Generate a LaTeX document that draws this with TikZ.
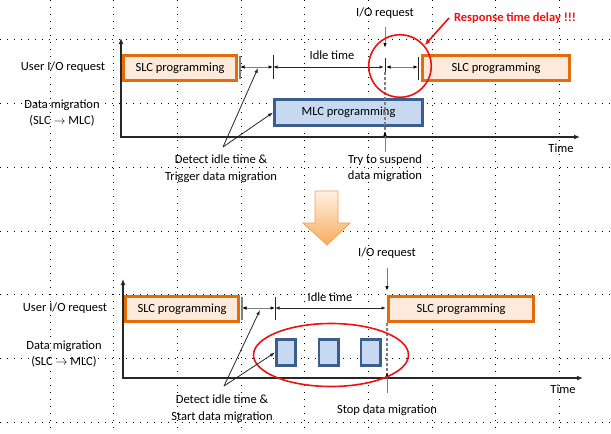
\documentclass[tikz,border=0pt]{standalone}
\usepackage{fontspec}
\setmainfont{Carlito}
\usetikzlibrary{arrows.meta,shapes.geometric,calc}
\definecolor{slcb}{HTML}{E46C0A}
\definecolor{slcf}{HTML}{FDEADA}
\definecolor{mlcb}{HTML}{3B5E8C}
\definecolor{mlcf}{HTML}{C6D9F1}
\definecolor{dk}{HTML}{262626}
\definecolor{gr}{HTML}{7F7F7F}
\definecolor{rd}{HTML}{F01010}
\definecolor{ora}{HTML}{F5A04E}
\definecolor{oral}{HTML}{FEF1E3}
\definecolor{orad}{HTML}{F9AC5C}
\begin{document}
\begin{tikzpicture}[x=1pt,y=-1pt,
  gridln/.style={black, line width=0.9pt, dash pattern=on 0.9pt off 6.1pt},
  axis/.style={dk, line width=1.6pt, {Latex[length=6pt,width=5pt]}-{Latex[length=6pt,width=5pt]}},
  slc/.style={draw=slcb, fill=slcf, line width=3pt, minimum height=25pt, inner sep=0pt, font=\fontsize{12.5}{15}\selectfont},
  mlc/.style={draw=mlcb, fill=mlcf, line width=3pt, minimum height=26pt, inner sep=0pt, font=\fontsize{12.5}{15}\selectfont},
  blk/.style={draw=mlcb, fill=mlcf, line width=2.8pt, minimum width=19.2pt, minimum height=26.2pt, inner sep=0pt},
  lab/.style={inner sep=0pt, align=center, font=\fontsize{12.5}{16.5}\selectfont},
  gtick/.style={gr, line width=1.6pt},
  btick/.style={dk, line width=0.9pt},
  gspan/.style={gr, line width=1pt, {Latex[length=4.5pt,width=3.5pt,black]}-{Latex[length=4.5pt,width=3.5pt,black]}},
  bspan/.style={dk, line width=1pt, {Latex[length=4.5pt,width=3.5pt]}-{Latex[length=4.5pt,width=3.5pt]}},
  ptr/.style={dk, line width=0.8pt, -{Latex[length=5pt,width=3.5pt]}},
  gptr/.style={gr, line width=1pt, -{Latex[length=5pt,width=3.5pt,black]}},
  vdash/.style={gr, line width=1.2pt, dash pattern=on 3pt off 2pt},
  redln/.style={rd, line width=1.6pt}
]
\useasboundingbox (0,0) rectangle (611,434);
% background dotted grid
\foreach \gx in {50,113.7,177.4,241.1,304.8,368.5,432.2,495.9,559.6}
  \draw[gridln] (\gx,0) -- (\gx,434);
\foreach \gy in {39.7,103.5,167.3,231.1,294.9,358.7,422.5}
  \draw[gridln] (0,\gy) -- (611,\gy);

% ================= TOP DIAGRAM =================
\coordinate (ay1) at (121,38);
\coordinate (o1) at (121,137);
\coordinate (ax1) at (580,137);
\draw[axis] (ay1) -- (o1) -- (ax1);

\node[lab] (usr1) at (63,67) {User I/O request};
\node[lab] (dm1) at (62,113) {Data migration\\(SLC $\rightarrow$ MLC)};
\node[lab] (time1) at (561,148) {Time};

\node[slc, minimum width=113pt] (slcA) at (180,68) {SLC programming};
\node[slc, minimum width=147pt] (slcB) at (496,68) {SLC programming};
\node[mlc, minimum width=148pt] (mlc) at (348.5,112.5) {MLC programming};

\coordinate (ta) at (240,67);
\coordinate (tb) at (273,67);
\coordinate (tc) at (385,67);
\coordinate (td) at (418,67);
\draw[gtick] ($(ta)+(0,-11)$) -- ($(ta)+(0,12)$);
\draw[btick] ($(tb)+(0,-12)$) -- ($(tb)+(0,12)$);
\draw[btick] ($(tc)+(0,-9)$) -- ($(tc)+(0,5)$);
\draw[btick] ($(td)+(0,-10)$) -- ($(td)+(0,13)$);
\draw[gspan] (ta) -- (tb);
\draw[bspan] (tb) -- ($(tc)+(-1,0)$);
\draw[gspan] ($(tc)+(1,0)$) -- (td);
\node[lab] (idle1) at (332,55) {Idle time};

\node[lab] (io1) at (385,13) {I/O request};
\coordinate (io1s) at (385,27);
\coordinate (io1e) at (385,48);
\draw[gptr] (io1s) -- (io1e);
\coordinate (susT) at (385,72);
\coordinate (susB) at (385,137);
\draw[vdash] (susT) -- (susB);
\coordinate (sus1s) at (385,152);
\coordinate (sus1e) at (385,131);
\draw[gptr] (sus1s) -- (sus1e);
\node[lab] (sus) at (385,168) {Try to suspend\\data migration};

\node[lab] (det1) at (221,168.5) {Detect idle time \&\\Trigger data migration};
\coordinate (d1) at (223,147);
\coordinate (d1a) at (258,68);
\draw[ptr] (d1) -- (d1a);
\draw[ptr] (d1) -- (mlc.west);

\node[circle, redln, draw, minimum size=62.5pt, inner sep=0pt] (circ) at (400,66) {};
\node[lab, text=rd, font=\fontsize{12.5}{15}\selectfont\bfseries] (resp) at (515,18) {Response time delay !!!};
\coordinate (r1) at (449,18);
\draw[redln, -{Latex[length=6pt,width=4.5pt]}] (r1) -- (circ.40);

% ================= ORANGE ARROW =================
\path[draw=ora, line width=0.8pt, top color=oral, bottom color=orad]
  (315,191) -- (338,191) -- (338,223) -- (350,223) -- (327,245) -- (303,223) -- (315,223) -- cycle;

% ================= BOTTOM DIAGRAM =================
\coordinate (ay2) at (123,279);
\coordinate (o2) at (123,378);
\coordinate (ax2) at (583,378);
\draw[axis] (ay2) -- (o2) -- (ax2);

\node[lab] (usr2) at (65,308) {User I/O request};
\node[lab] (dm2) at (64,354) {Data migration\\(SLC $\rightarrow$ MLC)};
\node[lab] (time2) at (563,389) {Time};

\node[slc, minimum width=113pt] (slcC) at (182,309) {SLC programming};
\node[slc, minimum width=145pt] (slcD) at (461,309) {SLC programming};

\coordinate (ua) at (242,308);
\coordinate (ub) at (275,308);
\coordinate (uc) at (386,308);
\draw[gtick] ($(ua)+(0,-11)$) -- ($(ua)+(0,12)$);
\draw[btick] ($(ub)+(0,-11)$) -- ($(ub)+(0,12)$);
\draw[gspan] (ua) -- (ub);
\draw[bspan] (ub) -- (uc);
\node[lab] (idle2) at (330,297) {Idle time};

\node[lab] (io2) at (387,253) {I/O request};
\coordinate (io2s) at (387,268);
\coordinate (io2e) at (387,291);
\draw[gptr] (io2s) -- (io2e);
\coordinate (stT) at (387,323);
\coordinate (stB) at (387,378);
\draw[vdash] (stT) -- (stB);
\coordinate (st2s) at (387,393);
\coordinate (st2e) at (387,372);
\draw[gptr] (st2s) -- (st2e);
\node[lab] (stop) at (387,410) {Stop data migration};

\node[blk] (b1) at (286,352.5) {};
\node[blk] (b2) at (328.5,352.5) {};
\node[blk] (b3) at (370.5,352.5) {};
\node[ellipse, redln, draw, minimum width=155pt, minimum height=63pt, inner sep=0pt] (ell) at (331,355) {};

\node[lab] (det2) at (222,408.5) {Detect idle time \&\\Start data migration};
\coordinate (d2) at (224,386);
\coordinate (d2a) at (260,310);
\draw[ptr] (d2) -- (d2a);
\draw[ptr] (d2) -- (b1.west);
\end{tikzpicture}
\end{document}
